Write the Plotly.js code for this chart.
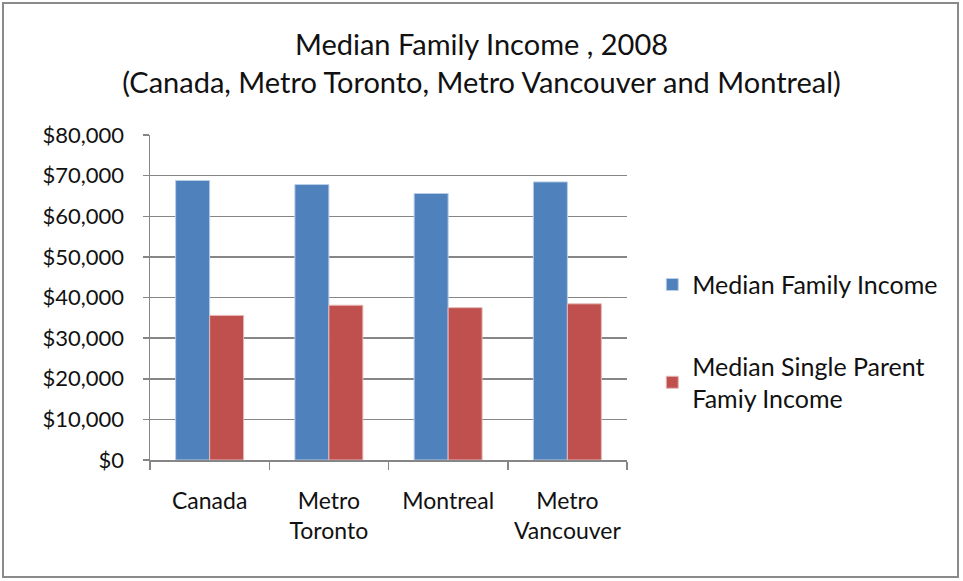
<!DOCTYPE html>
<html>
<head>
<meta charset="utf-8">
<script src="https://cdn.plot.ly/plotly-3.0.1.min.js"></script>
<style>
  body { margin: 0; background: #fff; }
  #chart { position: absolute; left: 0; top: 0; width: 963px; height: 581px; }
  #frame { position: absolute; left: 2px; top: 2px; width: 957px; height: 576px;
           border: 2px solid #8a8a8a; box-sizing: border-box; pointer-events: none; }
</style>
</head>
<body>
<div id="chart"></div>
<div id="frame"></div>
<script>
var regions = ['Canada', 'Metro<br>Toronto', 'Montreal', 'Metro<br>Vancouver'];
var familyIncome = [68800, 67800, 65600, 68450];
var singleParentIncome = [35600, 38100, 37500, 38450];
var yTicks = [0, 10000, 20000, 30000, 40000, 50000, 60000, 70000, 80000];

var fontFamily = 'Lato, "Open Sans", sans-serif';

var data = [
  {
    type: 'bar',
    name: 'Median Family Income',
    x: regions,
    y: familyIncome,
    marker: {color: '#4F81BD', line: {color: '#b9cde5', width: 1}},
    legendgroup: 'a'
  },
  {
    type: 'bar',
    name: 'Median Single Parent<br>Famiy Income',
    x: regions,
    y: singleParentIncome,
    marker: {color: '#C0504D', line: {color: '#e6b9b8', width: 1}},
    legendgroup: 'b'
  }
];

var layout = {
  width: 963,
  height: 581,
  paper_bgcolor: '#fff',
  plot_bgcolor: '#fff',
  margin: {l: 150, r: 336, t: 135, b: 121},
  font: {family: fontFamily, color: '#111', size: 22},
  title: {
    text: 'Median Family Income , 2008<br>(Canada, Metro Toronto, Metro Vancouver and Montreal)',
    x: 0.5, xref: 'container',
    y: 0.905, yref: 'container', yanchor: 'top',
    font: {family: fontFamily, size: 29, color: '#111'}
  },
  barmode: 'group',
  bargap: 0.43,
  bargroupgap: 0,
  showlegend: true,
  legend: {
    x: 1.053, xanchor: 'left',
    y: 0.61, yanchor: 'top',
    font: {family: fontFamily, size: 25, color: '#111'},
    traceorder: 'grouped',
    tracegroupgap: 46,
    itemwidth: 30,
    bgcolor: 'rgba(0,0,0,0)'
  },
  xaxis: {
    type: 'category',
    showline: true, linecolor: '#868686', linewidth: 1.5,
    ticks: 'outside', tickson: 'boundaries', ticklen: 8, tickcolor: '#868686', tickwidth: 1.5,
    ticklabelstandoff: 20,
    tickangle: 0,
    tickfont: {size: 23},
    showgrid: false,
    zeroline: false
  },
  yaxis: {
    range: [0, 80000],
    tickvals: yTicks,
    tickformat: '$,.0f',
    showline: true, linecolor: '#868686', linewidth: 1.5,
    ticks: 'outside', ticklen: 6, tickcolor: '#868686', tickwidth: 1.5,
    showgrid: true, gridcolor: '#868686', gridwidth: 1.5,
    zeroline: false,
    tickfont: {size: 22},
    ticklabelstandoff: 14
  }
};

Plotly.newPlot('chart', data, layout, {displayModeBar: false, staticPlot: true});
</script>
</body>
</html>
